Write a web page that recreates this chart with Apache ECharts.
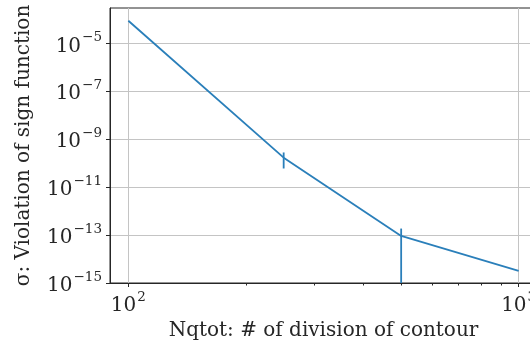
<!DOCTYPE html>
<html>
<head>
<meta charset="utf-8">
<script src="https://cdn.jsdelivr.net/npm/echarts@6/dist/echarts.min.js"></script>
<style>
  html, body { margin: 0; padding: 0; background: #fff; }
  #chart { width: 530px; height: 341px; }
</style>
</head>
<body>
<div id="chart"></div>
<script>
// Convergence of the sign-function violation vs. contour division count
const nqtot = [100, 250, 500, 1000];
const sigma = [8.8e-5, 1.7e-10, 9.2e-14, 3.2e-15];
const sigmaErr = [0, 1.1e-10, 9.5e-14, 0];

const xMajorTicks = [100, 1000];
const xMinorTicks = [200, 300, 400, 500, 600, 700, 800, 900];
const yTicks = [1e-15, 1e-13, 1e-11, 1e-9, 1e-7, 1e-5];

const X_MIN = Math.pow(10, 1.953);
const X_MAX = Math.pow(10, 3.047);
const Y_MIN = 1e-15;
const Y_MAX = Math.pow(10, -3.525);

const FONT = '"DejaVu Serif", serif';
const INK = '#262626';
const BLUE = '#2a7fba';
const FS = 20;

function powLabel(v) {
  const e = Math.round(Math.log10(v));
  const s = e < 0 ? '\u2212' + Math.abs(e) : String(e);
  return '{b|10}{s|' + s + '}';
}
const richPow = {
  b: { fontFamily: FONT, fontSize: FS, color: INK, verticalAlign: 'bottom', lineHeight: 26 },
  s: { fontFamily: FONT, fontSize: 13.5, color: INK, verticalAlign: 'top', lineHeight: 26, padding: [0, 0, 0, 1] }
};

const linePoints = nqtot.map((x, i) => [x, sigma[i]]);
const errPoints = nqtot.map((x, i) => [x, sigma[i], sigmaErr[i]]).filter(d => d[2] > 0);

const chart = echarts.init(document.getElementById('chart'), null, { renderer: 'canvas' });
chart.setOption({
  animation: false,
  backgroundColor: '#fff',
  grid: {
    left: 110, top: 8, width: 427, height: 275,
    outerBoundsMode: 'none', containLabel: false,
    show: true, borderColor: INK, borderWidth: 1, backgroundColor: 'transparent'
  },
  xAxis: [
    {
      type: 'log', logBase: 10, min: X_MIN, max: X_MAX,
      name: 'Nqtot: # of division of contour',
      nameLocation: 'middle', nameGap: 37,
      nameTextStyle: { fontFamily: FONT, fontSize: FS, color: INK },
      axisLine: { show: true, lineStyle: { color: INK, width: 1 } },
      axisTick: { show: true, customValues: xMajorTicks, length: 4, lineStyle: { color: INK, width: 1 } },
      axisLabel: { customValues: xMajorTicks, formatter: powLabel, rich: richPow, margin: 7 },
      splitLine: { show: true, lineStyle: { color: '#c4c4c4', width: 1 } },
      minorTick: { show: false }, minorSplitLine: { show: false }
    },
    {
      type: 'log', logBase: 10, min: X_MIN, max: X_MAX, position: 'bottom',
      axisLine: { show: false },
      axisTick: { show: true, customValues: xMinorTicks, length: 2.5, lineStyle: { color: INK, width: 1 } },
      axisLabel: { show: false },
      splitLine: { show: false }
    }
  ],
  yAxis: {
    type: 'log', logBase: 10, min: Y_MIN, max: Y_MAX,
    name: '\u03c3: Violation of sign function',
    nameLocation: 'middle', nameGap: 76, nameRotate: 90,
    nameTextStyle: { fontFamily: FONT, fontSize: FS, color: INK },
    axisLine: { show: true, lineStyle: { color: INK, width: 1 } },
    axisTick: { show: true, customValues: yTicks, length: 4, lineStyle: { color: INK, width: 1 } },
    axisLabel: { customValues: yTicks, formatter: powLabel, rich: richPow, margin: 8 },
    splitLine: { show: true, lineStyle: { color: '#c4c4c4', width: 1 } }
  },
  series: [
    {
      type: 'line', xAxisIndex: 0, data: linePoints,
      showSymbol: false, symbol: 'none',
      lineStyle: { color: BLUE, width: 1.8 }, z: 3
    },
    {
      type: 'custom', xAxisIndex: 0, data: errPoints,
      renderItem: function (params, api) {
        const x = api.value(0), y = api.value(1), e = api.value(2);
        const lo = Math.max(y - e, Y_MIN);
        const p1 = api.coord([x, y + e]);
        const p2 = api.coord([x, lo]);
        return {
          type: 'line',
          shape: { x1: p1[0], y1: p1[1], x2: p2[0], y2: p2[1] },
          style: { stroke: BLUE, lineWidth: 1.8 }
        };
      },
      z: 3
    }
  ]
});
</script>
</body>
</html>
